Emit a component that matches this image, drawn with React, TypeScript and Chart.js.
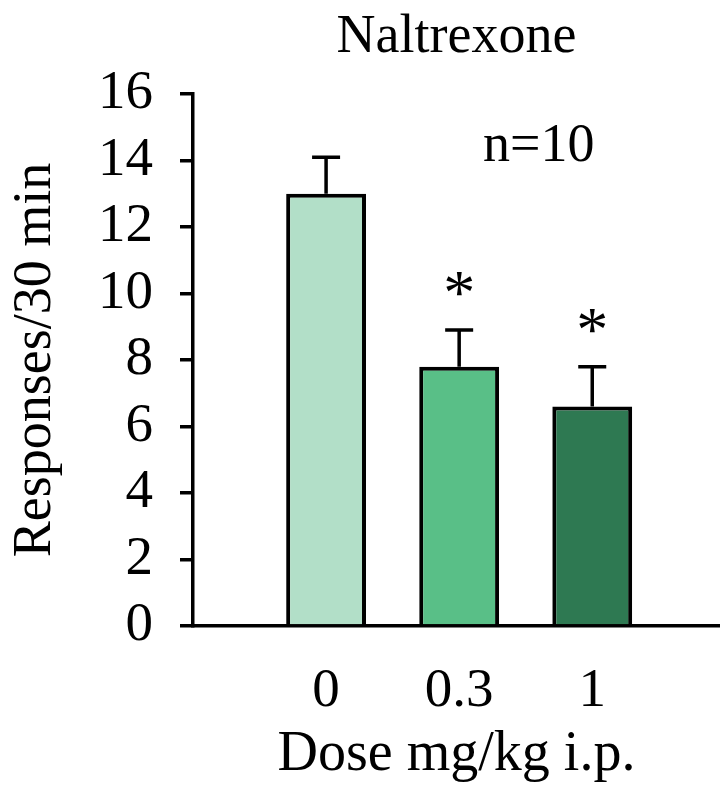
import React, { useEffect, useRef } from 'react';
import { Chart, registerables } from 'chart.js';

Chart.register(...registerables);

// ---- data ----
const categories = ['0', '0.3', '1'];
const means = [13.0, 7.8, 6.6];
const sems = [1.1, 1.1, 1.2];
const significance = ['', '*', '*'];
const barColors = ['#b2dfc8', '#59bf87', '#2e7952'];
const yTicks = [0, 2, 4, 6, 8, 10, 12, 14, 16];
const titleText = 'Naltrexone';
const yTitleText = 'Responses/30 min';
const xTitleText = 'Dose mg/kg i.p.';
const noteText = 'n=10';
const notePos = { x: 2.18, y: 14.0 };

const FONT = "'Liberation Serif', 'Times New Roman', serif";

const overlayPlugin = {
  id: 'overlay',
  afterDatasetsDraw(chart: any) {
    const ctx = chart.ctx;
    const xs = chart.scales.x;
    const ys = chart.scales.y;
    ctx.save();
    ctx.strokeStyle = '#000';
    ctx.fillStyle = '#000';
    ctx.lineWidth = 3.5;
    means.forEach((m, i) => {
      const cx = xs.getPixelForValue(i + 1);
      const yTop = ys.getPixelForValue(m);
      const yCap = ys.getPixelForValue(m + sems[i]);
      ctx.beginPath();
      ctx.moveTo(cx, yTop);
      ctx.lineTo(cx, yCap);
      ctx.moveTo(cx - 14, yCap);
      ctx.lineTo(cx + 14, yCap);
      ctx.stroke();
      if (significance[i]) {
        ctx.font = `64px ${FONT}`;
        ctx.textAlign = 'center';
        ctx.textBaseline = 'alphabetic';
        ctx.fillText(significance[i], cx, yCap - 16);
      }
    });
    ctx.font = `54px ${FONT}`;
    ctx.textAlign = 'left';
    ctx.textBaseline = 'alphabetic';
    ctx.fillText(noteText, xs.getPixelForValue(notePos.x), ys.getPixelForValue(notePos.y));
    ctx.restore();
  },
};

function BarChart() {
  const ref = useRef<HTMLCanvasElement>(null);
  useEffect(() => {
    if (!ref.current) return;
    const chart = new Chart(ref.current, {
      type: 'bar',
      data: {
        datasets: [
          {
            data: means.map((m, i) => ({ x: i + 1, y: m })),
            backgroundColor: barColors,
            borderColor: '#000',
            borderWidth: 4,
            barPercentage: 0.6,
            categoryPercentage: 1,
          },
        ],
      },
      options: {
        animation: false,
        responsive: false,
        layout: { padding: 0 },
        plugins: {
          legend: { display: false },
          tooltip: { enabled: false },
          title: {
            display: true,
            text: titleText,
            color: '#000',
            font: { family: FONT, size: 54, weight: 'normal' },
            padding: { top: 5, bottom: 24.2 },
            fullSize: false,
          },
        },
        scales: {
          x: {
            type: 'linear',
            min: 0,
            max: 3.96,
            offset: false,
            afterBuildTicks: (s: any) => {
              s.ticks = categories.map((_, i) => ({ value: i + 1 }));
            },
            afterFit: (s: any) => {
              s.height = 163;
            },
            ticks: {
              callback: (v: any) => categories[Number(v) - 1] ?? '',
              color: '#000',
              font: { family: FONT, size: 55 },
              padding: 33,
              autoSkip: false,
              maxRotation: 0,
            },
            grid: { display: true, offset: false, drawOnChartArea: false, drawTicks: false, color: '#000' },
            border: { display: true, color: '#000', width: 3.5 },
            title: {
              display: true,
              text: xTitleText,
              color: '#000',
              font: { family: FONT, size: 56 },
              padding: 0,
            },
          },
          y: {
            min: 0,
            max: 16,
            afterBuildTicks: (s: any) => {
              s.ticks = yTicks.map((v) => ({ value: v }));
            },
            afterFit: (s: any) => {
              s.width = 193;
            },
            ticks: {
              color: '#000',
              font: { family: FONT, size: 55 },
              padding: 27,
              autoSkip: false,
            },
            grid: {
              display: true,
              drawOnChartArea: false,
              drawTicks: true,
              tickLength: 13,
              tickWidth: 3.5,
              tickColor: '#000',
              color: '#000',
              lineWidth: 3.5,
            },
            border: { display: true, color: '#000', width: 3.5 },
            title: {
              display: true,
              text: yTitleText,
              color: '#000',
              font: { family: FONT, size: 54 },
              padding: { top: 3, bottom: 3 },
            },
          },
        },
      },
      plugins: [overlayPlugin],
    } as any);
    return () => chart.destroy();
  }, []);
  return <canvas ref={ref} width={720} height={789} />;
}

export default function App() {
  return (
    <div style={{ position: 'absolute', left: 0, top: 0, width: 720, height: 789, background: '#fff' }}>
      <BarChart />
    </div>
  );
}
